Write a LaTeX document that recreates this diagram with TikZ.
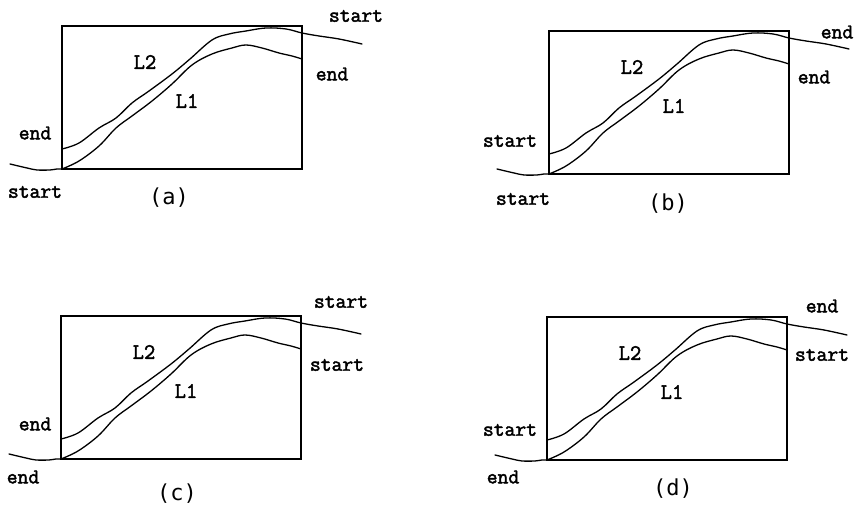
\documentclass[tikz,border=0pt]{standalone}
\usepackage{fontspec}
\usepackage{tikz}
\usetikzlibrary{positioning}

\newfontfamily\tagfont{Latin Modern Mono}[FakeBold=2.2]
\newfontfamily\capfont{DejaVu Sans Mono}

\tikzset{
  frame/.style={line width=1.6pt},
  trace/.style={line width=1.3pt, line join=round, line cap=round},
  tag/.style={font=\tagfont\fontsize{21}{23}\selectfont, inner sep=0pt},
  curvename/.style={font=\tagfont\fontsize{22}{24}\selectfont, inner sep=0pt},
  subcap/.style={font=\capfont\fontsize{22}{24}\selectfont, inner sep=0pt},
  pics/panel/.style={code={
      % Box
      \draw[frame] (0,0) rectangle (240,143);
      % L1 with its tail on the left
      \draw[trace] plot[smooth] coordinates {(-52,5) (-35,1) (-25,-1) (-12,-1) (-5,0) (0,0)};
      \draw[trace] plot[smooth, tension=0.6] coordinates {(0,0) (17,8) (37,23) (54,41) (70,53)
        (90,68) (110,85) (130,104) (150,115) (170,121) (184,124) (200,121)
        (217,116) (230,113) (240,110)};
      % L2 with its tail on the right
      \draw[trace] plot[smooth, tension=0.6] coordinates {(0,20) (17,26) (37,41) (54,51) (70,66)
        (87,78) (110,95) (128,110) (150,129) (167,135) (184,138) (204,141)
        (224,140) (240,136) (257,133) (277,130) (300,125)};
      \node[curvename] (-l2) at (83,107) {L2};
      \node[curvename] (-l1) at (125,68) {L1};
  }}
}

\begin{document}
\begin{tikzpicture}[x=1pt, y=1pt]
  \useasboundingbox (0,0) rectangle (860,505);

  % (a)
  \pic (pa) at (62,336) {panel};
  \node[tag] (pa-ts) at (356,489) {start};
  \node[tag] (pa-te) at (332,431) {end};
  \node[tag] (pa-le) at (35,372) {end};
  \node[tag] (pa-bs) at (35,313) {start};
  \node[subcap] (pa-cap) at (169,307) {(a)};

  % (b)
  \pic (pb) at (549,331) {panel};
  \node[tag] (pb-te) at (837,473) {end};
  \node[tag] (pb-re) at (814,428) {end};
  \node[tag] (pb-ls) at (510,364) {start};
  \node[tag] (pb-bs) at (523,306) {start};
  \node[subcap] (pb-cap) at (668,301) {(b)};

  % (c)
  \pic (pc) at (61,46) {panel};
  \node[tag] (pc-ts) at (341,203) {start};
  \node[tag] (pc-rs) at (337,140) {start};
  \node[tag] (pc-le) at (35,81) {end};
  \node[tag] (pc-be) at (23,28) {end};
  \node[subcap] (pc-cap) at (177,11) {(c)};

  % (d)
  \pic (pd) at (547,45) {panel};
  \node[tag] (pd-te) at (822,199) {end};
  \node[tag] (pd-rs) at (822,150) {start};
  \node[tag] (pd-ls) at (510,75) {start};
  \node[tag] (pd-be) at (503,28) {end};
  \node[subcap] (pd-cap) at (673,16) {(d)};
\end{tikzpicture}
\end{document}
